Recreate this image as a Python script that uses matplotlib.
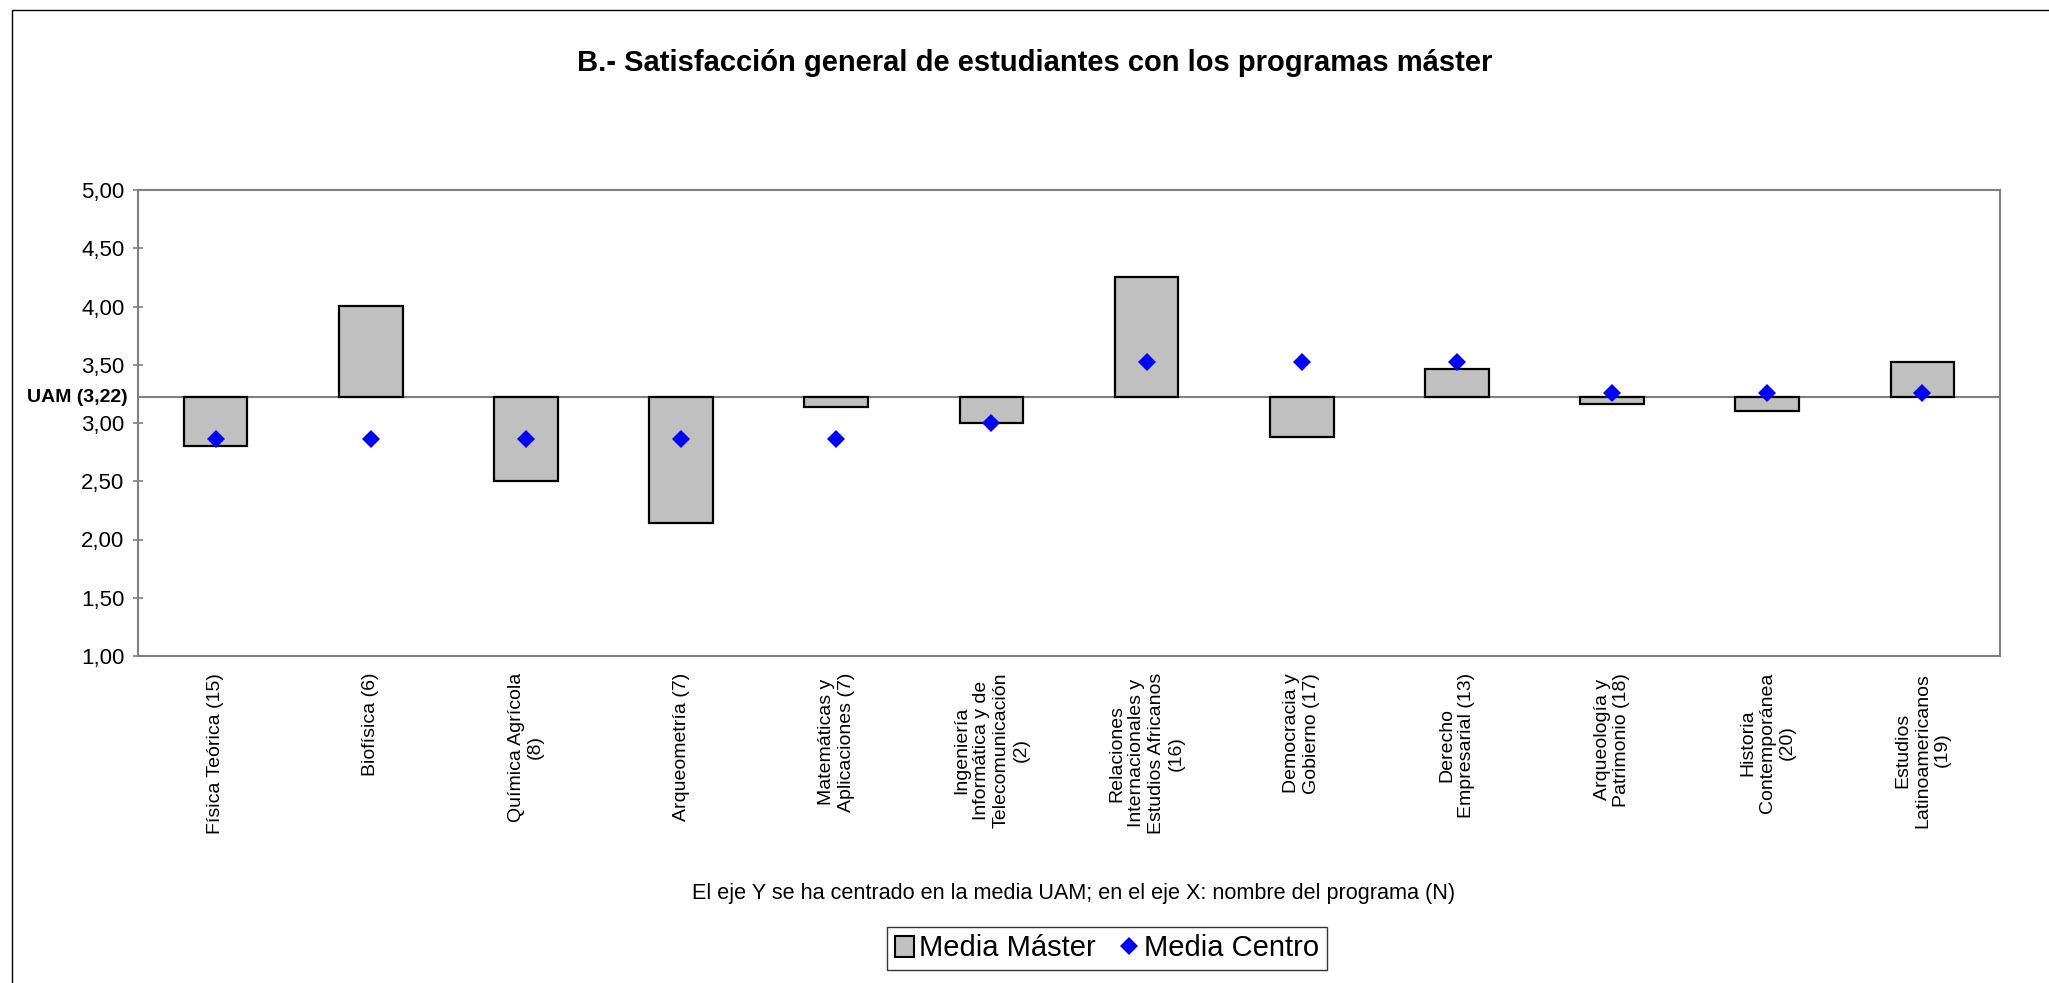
import matplotlib
matplotlib.use("Agg")
import matplotlib.pyplot as plt
from matplotlib.patches import Rectangle, Patch
from matplotlib.lines import Line2D

plt.rcParams['font.family'] = ['Liberation Sans', 'DejaVu Sans']

programas = [
    "Física Teórica (15)",
    "Biofísica (6)",
    "Química Agrícola\n(8)",
    "Arqueometría (7)",
    "Matemáticas y\nAplicaciones (7)",
    "Ingeniería\nInformática y de\nTelecomunicación\n(2)",
    "Relaciones\nInternacionales y\nEstudios Africanos\n(16)",
    "Democracia y\nGobierno (17)",
    "Derecho\nEmpresarial (13)",
    "Arqueología y\nPatrimonio (18)",
    "Historia\nContemporánea\n(20)",
    "Estudios\nLatinoamericanos\n(19)",
]
media_master = [2.80, 4.00, 2.50, 2.14, 3.14, 3.00, 4.25, 2.88, 3.46, 3.16, 3.10, 3.52]
media_centro = [2.86, 2.86, 2.86, 2.86, 2.86, 3.00, 3.52, 3.52, 3.52, 3.26, 3.26, 3.26]
media_uam = 3.22
yticks = [1.0, 1.5, 2.0, 2.5, 3.0, 3.5, 4.0, 4.5, 5.0]

W, H = 2049, 983
fig = plt.figure(figsize=(W / 100, H / 100), dpi=100)
fig.patch.set_facecolor('white')

# outer chart frame (cropped on right / bottom)
fig.add_artist(Rectangle((12 / W, -0.05), 1.1, 1 - 10 / H + 0.05, transform=fig.transFigure,
                         fill=False, edgecolor='black', linewidth=1.0))

left, right, top, bottom = 138, 2000, 190, 656
ax = fig.add_axes([left / W, 1 - bottom / H, (right - left) / W, (bottom - top) / H])

x = list(range(len(programas)))
heights = [v - media_uam for v in media_master]
ax.bar(x, heights, bottom=media_uam, width=0.41, color='#C0C0C0', edgecolor='black',
       linewidth=1.6, zorder=3)
ax.axhline(media_uam, color='#808080', linewidth=1.5, zorder=2)
ax.plot(x, media_centro, linestyle='none', marker='D', markersize=9.5, color='#0000FF',
        markeredgewidth=0, zorder=4)

ax.set_xlim(-0.5, len(programas) - 0.5)
ax.set_ylim(1, 5)
ax.set_yticks(yticks)
ax.set_yticklabels([f"{v:.2f}".replace('.', ',') for v in yticks], fontsize=16)
ax.tick_params(axis='y', direction='inout', length=6.5, width=1.2, color='#808080', pad=6.5)
ax.set_xticks(x)
ax.set_xticklabels(programas, rotation=90, fontsize=14, linespacing=1.2,
                   multialignment='center')
ax.tick_params(axis='x', length=0, pad=12)
for s in ax.spines.values():
    s.set_color('#808080')
    s.set_linewidth(1.5)

ax.text(-0.0054, media_uam, "UAM (3,22)", transform=ax.get_yaxis_transform(),
        ha='right', va='center', fontsize=14, fontweight='bold')

fig.text(1035 / W, 1 - 63 / H, "B.- Satisfacción general de estudiantes con los programas máster",
         ha='center', va='center', fontsize=21, fontweight='bold')
fig.text(1074 / W, 1 - 894 / H,
         "El eje Y se ha centrado en la media UAM; en el eje X: nombre del programa (N)",
         ha='center', va='center', fontsize=15.6)

handles = [Patch(facecolor='#C0C0C0', edgecolor='black', linewidth=1.5, label='Media Máster'),
           Line2D([], [], linestyle='none', marker='D', markersize=9.5, color='#0000FF',
                  markeredgewidth=0, label='Media Centro')]
leg = fig.legend(handles=handles, loc='center', bbox_to_anchor=(1107 / W, 1 - 948.5 / H),
                 ncol=2, fontsize=21, frameon=True, fancybox=False, shadow=False,
                 handlelength=0.65, handleheight=0.7, handletextpad=0.2, columnspacing=0.8,
                 borderpad=0.25, borderaxespad=0)
leg.get_frame().set_edgecolor('black')
leg.get_frame().set_linewidth(1.0)

fig.savefig('out.png', dpi=100)
